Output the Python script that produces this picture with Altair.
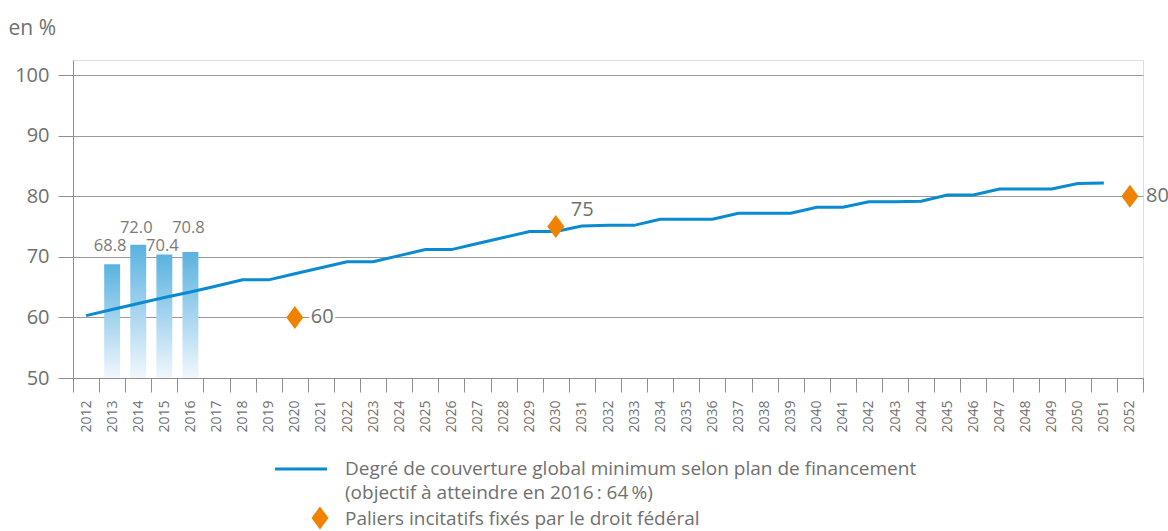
import altair as alt
import pandas as pd

# Years on the horizontal axis
years = list(range(2012, 2053))

# Minimum global funding ratio according to the financing plan (%)
plan_years = list(range(2012, 2052))
plan_values = [60.3, 61.3, 62.3, 63.3, 64.2, 65.2, 66.2, 66.2, 67.2, 68.2,
               69.2, 69.2, 70.2, 71.2, 71.2, 72.2, 73.2, 74.2, 74.2, 75.1,
               75.2, 75.2, 76.2, 76.2, 76.2, 77.2, 77.2, 77.2, 78.2, 78.2,
               79.1, 79.1, 79.2, 80.2, 80.2, 81.2, 81.2, 81.2, 82.1, 82.2]

# Actual funding ratio (%)
actual_years = [2013, 2014, 2015, 2016]
actual_values = [68.8, 72.0, 70.4, 70.8]

# Federal incentive milestones (%)
milestone_years = [2020, 2030, 2052]
milestone_values = [60, 75, 80]

legend_line_text = ["Degré de couverture global minimum selon plan de financement",
                    "(objectif à atteindre en 2016\u2009: 64\u2009%)"]
legend_diamond_text = "Paliers incitatifs fixés par le droit fédéral"

FONT = "Open Sans"
GREY = "#707070"
AXIS_GREY = "#8f8f8f"
BLUE = "#0a8ad0"
ORANGE = "#f08200"
DIAMOND = "M0,-1L0.74,0L0,1L-0.74,0Z"

plan_df = pd.DataFrame({"year": plan_years, "value": plan_values})
actual_df = pd.DataFrame({"year": actual_years, "value": actual_values})
actual_df["label"] = actual_df["value"].map(lambda v: f"{v:.1f}")
mile_df = pd.DataFrame({"year": milestone_years, "value": milestone_values})
mile_df["label"] = mile_df["value"].astype(str)

x_enc = alt.X("year:O", title=None,
              scale=alt.Scale(domain=years, paddingInner=0, paddingOuter=0),
              axis=alt.Axis(labelAngle=270, labelFontSize=14, labelColor=GREY,
                            labelFont=FONT, labelPadding=8, tickBand="extent",
                            tickSize=14, tickColor=AXIS_GREY, domainColor=AXIS_GREY,
                            labelAlign="right", labelBaseline="middle"))

y_scale = alt.Scale(domain=[50, 102.5], nice=False, zero=False)
y_enc = alt.Y("value:Q", scale=y_scale,
              axis=alt.Axis(values=[50, 60, 70, 80, 90, 100], title="en %",
                            titleAngle=0, titleAlign="left", titleBaseline="alphabetic",
                            titleX=-65, titleY=-26, titleFontSize=21,
                            titleFontWeight="normal", titleColor=GREY, titleFont=FONT,
                            labelFontSize=20, labelColor=GREY, labelFont=FONT,
                            labelPadding=9, tickSize=15, tickColor=AXIS_GREY,
                            domainColor=AXIS_GREY, grid=True, gridColor="#9a9a9a",
                            gridWidth=1))

bars = alt.Chart(actual_df).mark_bar(
    width=alt.RelativeBandSize(0.61),
    color=alt.Gradient(gradient="linear", x1=0, x2=0, y1=0, y2=1,
                       stops=[alt.GradientStop(color="#5ab2e0", offset=0),
                              alt.GradientStop(color="#f1f7fd", offset=1)])
).encode(x=x_enc, y=y_enc, y2=alt.Y2Datum(50))

lower = actual_df[actual_df["year"].isin([2013, 2015])]
upper = actual_df[actual_df["year"].isin([2014, 2016])]
label_style = dict(font=FONT, fontSize=16.5, color="#7a7a7a", baseline="middle")
bar_labels_low = alt.Chart(lower).mark_text(dx=-2, **label_style).encode(
    x=alt.X("year:O"), y=alt.YDatum(71.8), text="label:N")
bar_labels_up = alt.Chart(upper).mark_text(dx=-2, **label_style).encode(
    x=alt.X("year:O"), y=alt.YDatum(74.75), text="label:N")

line = alt.Chart(plan_df).mark_line(color=BLUE, strokeWidth=3).encode(
    x=alt.X("year:O"), y=alt.Y("value:Q"))

diamonds = alt.Chart(mile_df).mark_point(
    shape=DIAMOND, filled=True, color=ORANGE, opacity=1, size=529
).encode(x=alt.X("year:O"), y=alt.Y("value:Q"))

side = mile_df[mile_df["year"] != 2030]
top = mile_df[mile_df["year"] == 2030]
mlabel = dict(font=FONT, fontSize=20, align="left", baseline="middle")
side_halo = alt.Chart(side).mark_text(dx=16, stroke="white", strokeWidth=5,
                                      color="white", **mlabel).encode(
    x=alt.X("year:O"), y=alt.Y("value:Q"), text="label:N")
side_text = alt.Chart(side).mark_text(dx=16, color=GREY, **mlabel).encode(
    x=alt.X("year:O"), y=alt.Y("value:Q"), text="label:N")
top_text = alt.Chart(top).mark_text(dx=15, dy=-17, color=GREY, **mlabel).encode(
    x=alt.X("year:O"), y=alt.Y("value:Q"), text="label:N")

# Legend drawn below the plot area
leg_df = pd.DataFrame({"k": [0]})
leg_style = dict(font=FONT, fontSize=19, color=GREY, align="left", baseline="alphabetic")
leg_line = alt.Chart(leg_df).mark_rule(color=BLUE, strokeWidth=3).encode(
    x=alt.value(202), x2=alt.value(254), y=alt.value(409))
leg_line_text1 = alt.Chart(leg_df).mark_text(text=legend_line_text[0], **leg_style).encode(
    x=alt.value(272), y=alt.value(415))
leg_line_text2 = alt.Chart(leg_df).mark_text(text=legend_line_text[1], **leg_style).encode(
    x=alt.value(272), y=alt.value(439))
leg_diamond = alt.Chart(leg_df).mark_point(
    shape=DIAMOND, filled=True, color=ORANGE, opacity=1, size=529
).encode(x=alt.value(247), y=alt.value(458))
leg_diamond_text = alt.Chart(leg_df).mark_text(text=legend_diamond_text, **leg_style).encode(
    x=alt.value(272), y=alt.value(465))

chart = alt.layer(
    bars, bar_labels_low, bar_labels_up, line, diamonds,
    side_halo, side_text, top_text,
    leg_line, leg_line_text1, leg_line_text2, leg_diamond, leg_diamond_text
).properties(
    width=1070, height=318,
    autosize=alt.AutoSizeParams(type="none"),
    padding={"left": 73, "top": 60, "right": 25, "bottom": 153},
).configure_view(stroke=None).configure(background="white")

chart.save("out.html", embed_options={"renderer": "svg", "actions": False})
